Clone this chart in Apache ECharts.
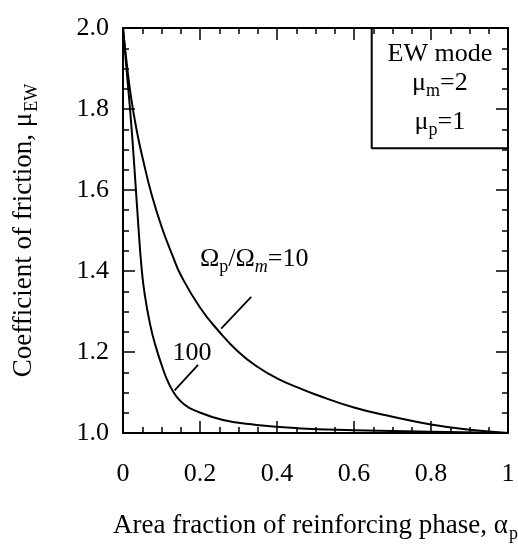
<!DOCTYPE html>
<html>
<head>
<meta charset="utf-8">
<script src="https://cdn.jsdelivr.net/npm/echarts@6/dist/echarts.min.js"></script>
<style>
  html, body { margin: 0; padding: 0; background: #fff; }
  #chart { width: 518px; height: 544px; }
</style>
</head>
<body>
<div id="chart"></div>
<script>
// Values
const xTicks = [0, 0.2, 0.4, 0.6, 0.8, 1];

// Omega_p / Omega_m = 10
const alpha10 = [0, 0.01, 0.02, 0.035, 0.052, 0.074, 0.1, 0.13, 0.15, 0.2, 0.25, 0.3, 0.35, 0.4, 0.46, 0.5, 0.6, 0.7, 0.8, 0.9, 1.0];
const mu10 = [2.0, 1.91, 1.835, 1.75, 1.675, 1.59, 1.51, 1.435, 1.39, 1.31, 1.25, 1.20, 1.163, 1.135, 1.11, 1.095, 1.063, 1.04, 1.021, 1.008, 1.0];

// Omega_p / Omega_m = 100
const alpha100 = [0, 0.01, 0.02, 0.03, 0.04, 0.048, 0.056, 0.07, 0.083, 0.105, 0.12, 0.139, 0.16, 0.183, 0.26, 0.347, 0.45, 0.6, 0.8, 1.0];
const mu100 = [2.0, 1.89, 1.78, 1.65, 1.51, 1.41, 1.345, 1.27, 1.22, 1.155, 1.12, 1.09, 1.07, 1.057, 1.032, 1.02, 1.012, 1.007, 1.003, 1.0];

// leader lines from labels to curves
const leader10 = [[0.333, 1.336], [0.255, 1.258]];
const leader100 = [[0.195, 1.168], [0.134, 1.105]];

// curve labels
const curveLabels = [
  { pos: [0.2, 1.43], text: '{t|Ω}{s|p}{t|/Ω}{si|m}{t|=10}', align: 'left' },
  { pos: [0.179, 1.196], text: '{t|100}', align: 'center' }
];

// parameter box (left and bottom edges, top/right are the plot frame)
const boxEdge = [[0.646, 2.0], [0.646, 1.703], [1.0, 1.703]];
const boxLines = [
  { pos: [0.823, 1.935], text: '{t|EW mode}' },
  { pos: [0.823, 1.864], text: '{t|μ}{s|m}{t|=2}' },
  { pos: [0.823, 1.768], text: '{t|μ}{s|p}{t|=1}' }
];

const FONT = '"Liberation Serif", "DejaVu Serif", serif';
const INK = '#000';

const richStyles = {
  t: { fontSize: 26, fontFamily: FONT, color: INK },
  s: { fontSize: 18, fontFamily: FONT, color: INK, padding: [17, 0, 0, 0] },
  si: { fontSize: 18, fontFamily: FONT, color: INK, fontStyle: 'italic', padding: [17, 0, 0, 0] }
};

const zip = (xs, ys) => xs.map((x, i) => [x, ys[i]]);

const chart = echarts.init(document.getElementById('chart'));

const tickStyle = { color: INK, width: 1.5 };
const baseX = {
  type: 'value',
  min: 0,
  max: 1,
  interval: 0.2,
  axisLine: { show: true, onZero: false, lineStyle: { color: INK, width: 2 } },
  axisTick: { show: true, inside: true, length: 12, lineStyle: tickStyle },
  minorTick: { show: true, splitNumber: 4, length: 6, lineStyle: tickStyle },
  splitLine: { show: false }
};
const baseY = {
  type: 'value',
  min: 1.0,
  max: 2.0,
  interval: 0.2,
  axisLine: { show: true, onZero: false, lineStyle: { color: INK, width: 2 } },
  axisTick: { show: true, inside: true, length: 12, lineStyle: tickStyle },
  minorTick: { show: true, splitNumber: 4, length: 6, lineStyle: tickStyle },
  splitLine: { show: false }
};

const curveStyle = { color: INK, width: 2 };

chart.setOption({
  animation: false,
  backgroundColor: '#fff',
  grid: { left: 123, right: 10, top: 28, bottom: 111, containLabel: false, outerBoundsMode: 'none' },
  xAxis: [
    Object.assign({}, baseX, {
      position: 'bottom',
      axisLabel: {
        margin: 28,
        fontSize: 26,
        fontFamily: FONT,
        color: INK,
        formatter: (v) => (xTicks.includes(+v.toFixed(1)) ? String(+v.toFixed(1)) : '')
      },
      name: '{t|Area fraction of reinforcing phase, α}{s|p}',
      nameLocation: 'middle',
      nameGap: 76,
      nameTextStyle: {
        rich: {
          t: { fontSize: 27, fontFamily: FONT, color: INK },
          s: { fontSize: 18, fontFamily: FONT, color: INK, padding: [16, 0, 0, 1] }
        }
      }
    }),
    Object.assign({}, baseX, { position: 'top', axisLabel: { show: false } })
  ],
  yAxis: [
    Object.assign({}, baseY, {
      position: 'left',
      axisLabel: {
        margin: 14,
        fontSize: 26,
        fontFamily: FONT,
        color: INK,
        formatter: (v) => v.toFixed(1)
      },
      name: '{t|Coefficient of friction, μ}{s|EW}',
      nameLocation: 'middle',
      nameGap: 82,
      nameTextStyle: {
        rich: {
          t: { fontSize: 27, fontFamily: FONT, color: INK },
          s: { fontSize: 18, fontFamily: FONT, color: INK, padding: [16, 0, 0, 1] }
        }
      }
    }),
    Object.assign({}, baseY, { position: 'right', axisLabel: { show: false } })
  ],
  series: [
    {
      name: 'Ωp/Ωm=10',
      type: 'line',
      data: zip(alpha10, mu10),
      smooth: 0.5,
      showSymbol: false,
      lineStyle: curveStyle
    },
    {
      name: 'Ωp/Ωm=100',
      type: 'line',
      data: zip(alpha100, mu100),
      smooth: 0.5,
      showSymbol: false,
      lineStyle: curveStyle
    },
    {
      name: 'leader 10',
      type: 'line',
      data: leader10,
      showSymbol: false,
      lineStyle: { color: INK, width: 1.8 }
    },
    {
      name: 'leader 100',
      type: 'line',
      data: leader100,
      showSymbol: false,
      lineStyle: { color: INK, width: 1.8 }
    },
    {
      name: 'box',
      type: 'line',
      data: boxEdge,
      showSymbol: false,
      lineStyle: { color: INK, width: 2 }
    },
    {
      name: 'labels',
      type: 'scatter',
      symbolSize: 0,
      itemStyle: { color: INK, opacity: 1 },
      data: curveLabels.concat(boxLines).map((d) => ({
        value: d.pos,
        label: {
          show: true,
          position: 'inside',
          align: d.align || 'center',
          verticalAlign: 'middle',
          color: INK,
          opacity: 1,
          textBorderWidth: 0,
          formatter: d.text,
          rich: richStyles
        }
      }))
    }
  ]
});
</script>
</body>
</html>
